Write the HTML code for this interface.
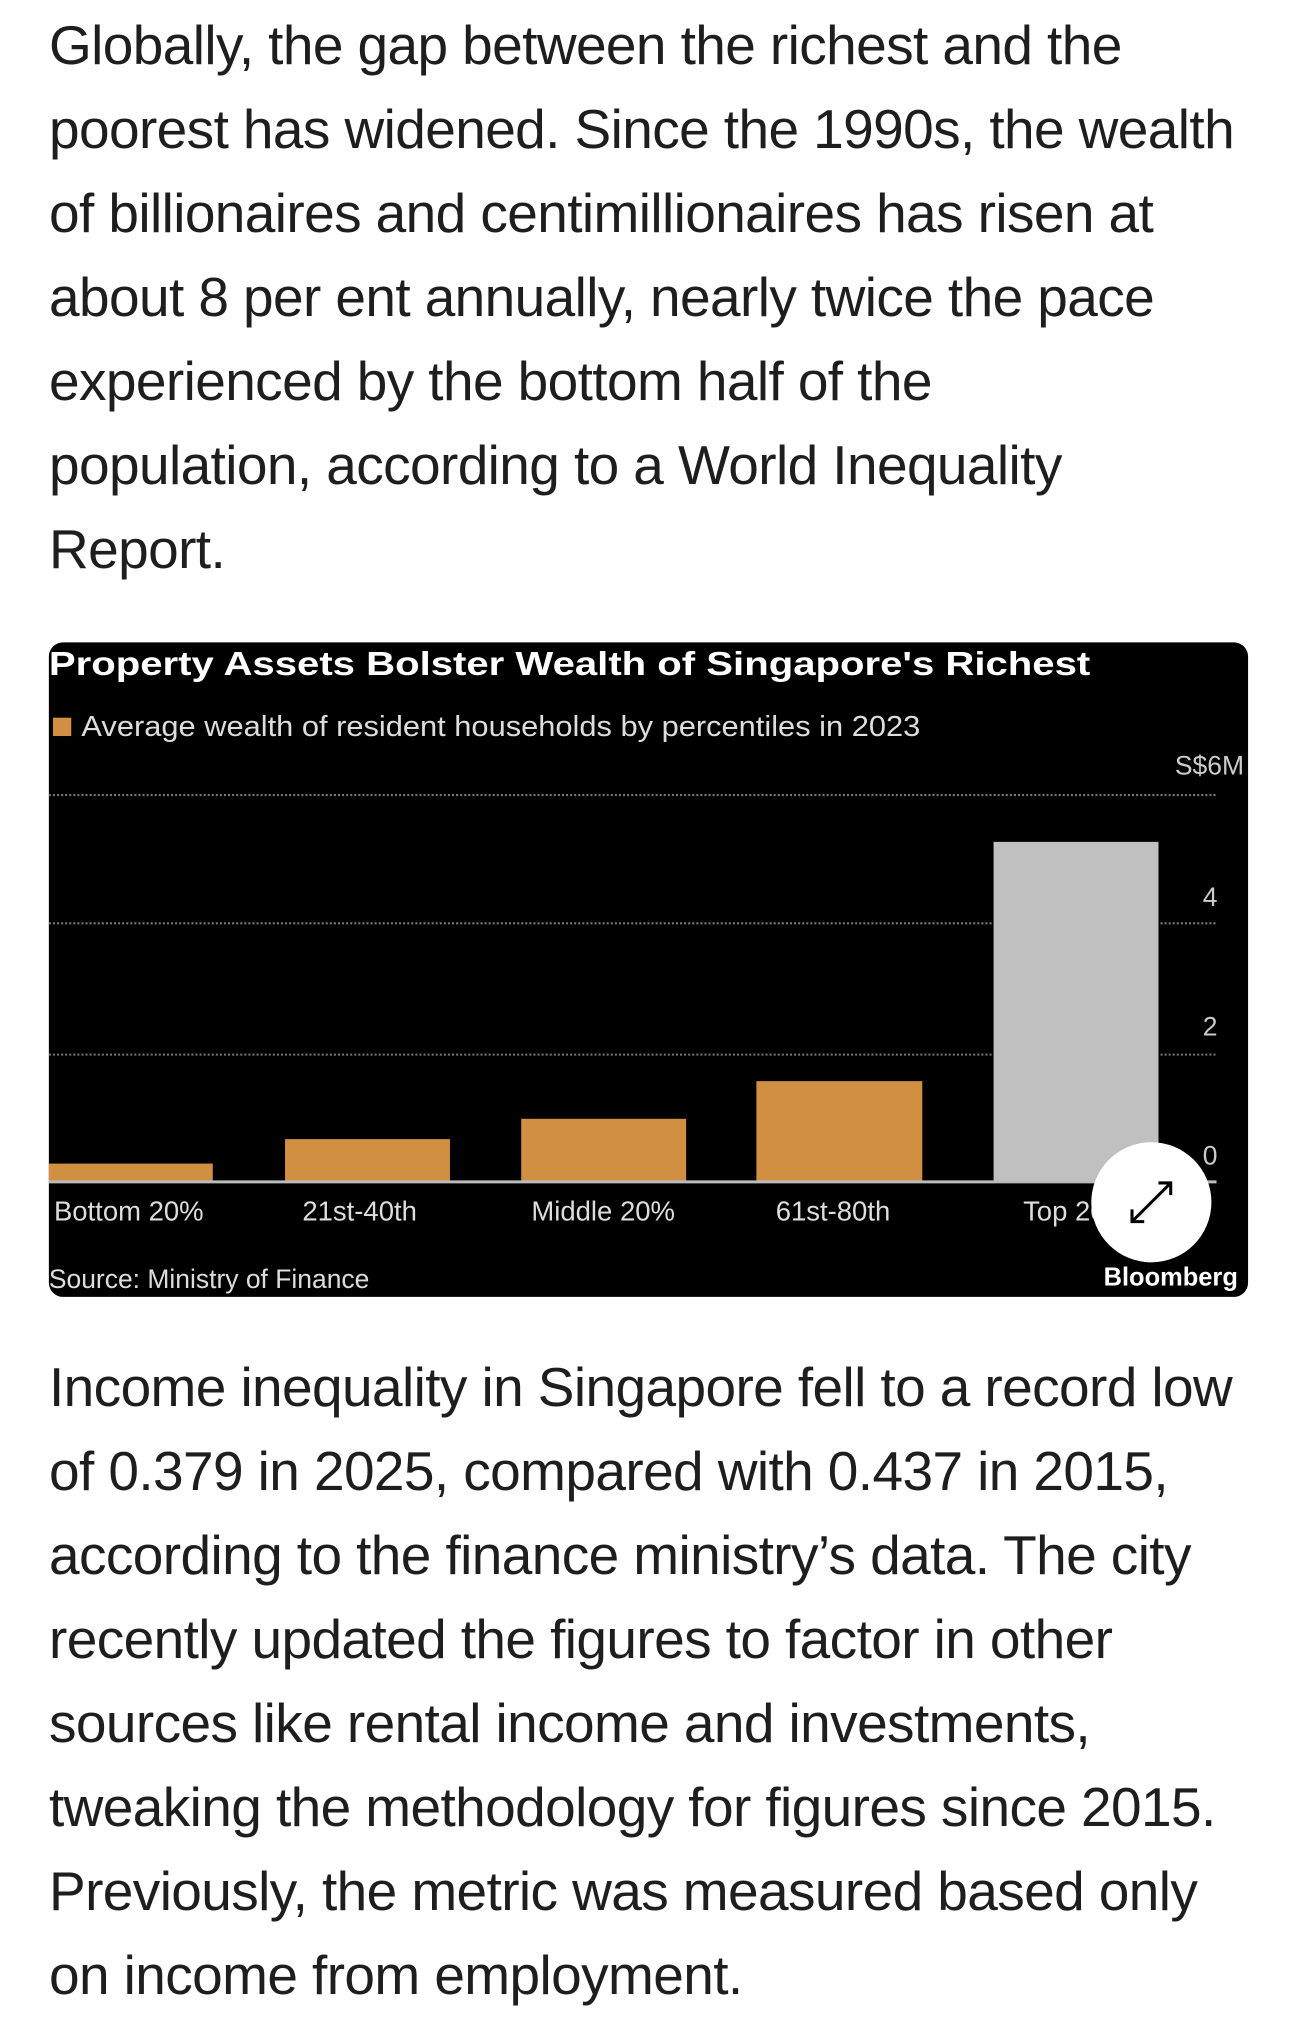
<!DOCTYPE html>
<html><head><meta charset="utf-8"><style>
html,body{margin:0;padding:0;background:#fff;width:1290px;height:2001px;overflow:hidden}
.p{position:absolute;left:49px;font-family:"Liberation Sans",sans-serif;font-size:55px;letter-spacing:-0.6px;color:#1e1e1e;white-space:nowrap;line-height:84px}
</style></head><body>
<div class="p" style="top:3px">Globally, the gap between the richest and the<br>poorest has widened. Since the 1990s, the wealth<br>of billionaires and centimillionaires has risen at<br>about 8 per ent annually, nearly twice the pace<br>experienced by the bottom half of the<br>population, according to a World Inequality<br>Report.</div>
<svg style="position:absolute;left:0;top:0" width="1290" height="2001">
<g transform="scale(1.018)">
<rect x="48" y="631" width="1178" height="643" rx="14" fill="#000"/>
<g font-family="Liberation Sans Narrow, Liberation Sans, sans-serif" fill="#fff">
<text x="48" y="663" font-size="33" font-weight="bold" textLength="1023" lengthAdjust="spacingAndGlyphs">Property Assets Bolster Wealth of Singapore's Richest</text>
<rect x="52" y="705" width="18" height="18" fill="#d18f41"/>
<text x="80" y="723" font-size="28" fill="#ddd" textLength="824" lengthAdjust="spacingAndGlyphs">Average wealth of resident households by percentiles in 2023</text>
<text x="1222" y="761" font-size="26" fill="#ccc" text-anchor="end">S$6M</text>
<g stroke="#777" stroke-width="2" stroke-dasharray="2,2">
<line x1="48" y1="781" x2="1195" y2="781"/><line x1="48" y1="907" x2="1195" y2="907"/><line x1="48" y1="1036" x2="1195" y2="1036"/>
</g>
<text x="1196" y="890" font-size="26" fill="#ccc" text-anchor="end">4</text>
<text x="1196" y="1017" font-size="26" fill="#ccc" text-anchor="end">2</text>
<text x="1196" y="1144" font-size="26" fill="#ccc" text-anchor="end">0</text>
<rect x="48" y="1143" width="161" height="17" fill="#d18f41"/>
<rect x="280" y="1119" width="162" height="41" fill="#d18f41"/>
<rect x="512" y="1099" width="162" height="61" fill="#d18f41"/>
<rect x="743" y="1062" width="163" height="98" fill="#d18f41"/>
<rect x="976" y="827" width="162" height="333" fill="#c0c0c0"/>
<line x1="48" y1="1161" x2="1195" y2="1161" stroke="#bbb" stroke-width="3"/>
<g font-size="27" fill="#ddd">
<text x="53" y="1199">Bottom 20%</text>
<text x="297" y="1199">21st-40th</text>
<text x="522" y="1199">Middle 20%</text>
<text x="762" y="1199">61st-80th</text>
<text x="1005" y="1199">Top 20%</text>
<text x="48" y="1265" font-size="26">Source: Ministry of Finance</text>
<text x="1216" y="1263" font-size="25" font-weight="bold" fill="#fff" text-anchor="end">Bloomberg</text>
</g>
</g>
<circle cx="1131" cy="1181" r="59" fill="#fff"/>
<g stroke="#000" stroke-width="3" fill="none">
<line x1="1112" y1="1200" x2="1150" y2="1162"/>
<polyline points="1138,1162 1150,1162 1150,1174"/>
<polyline points="1112,1188 1112,1200 1124,1200"/>
</g>
</g>
</svg>
<div class="p" style="top:1345px">Income inequality in Singapore fell to a record low<br>of 0.379 in 2025, compared with 0.437 in 2015,<br>according to the finance ministry’s data. The city<br>recently updated the figures to factor in other<br>sources like rental income and investments,<br>tweaking the methodology for figures since 2015.<br>Previously, the metric was measured based only<br>on income from employment.</div>
</body></html>
